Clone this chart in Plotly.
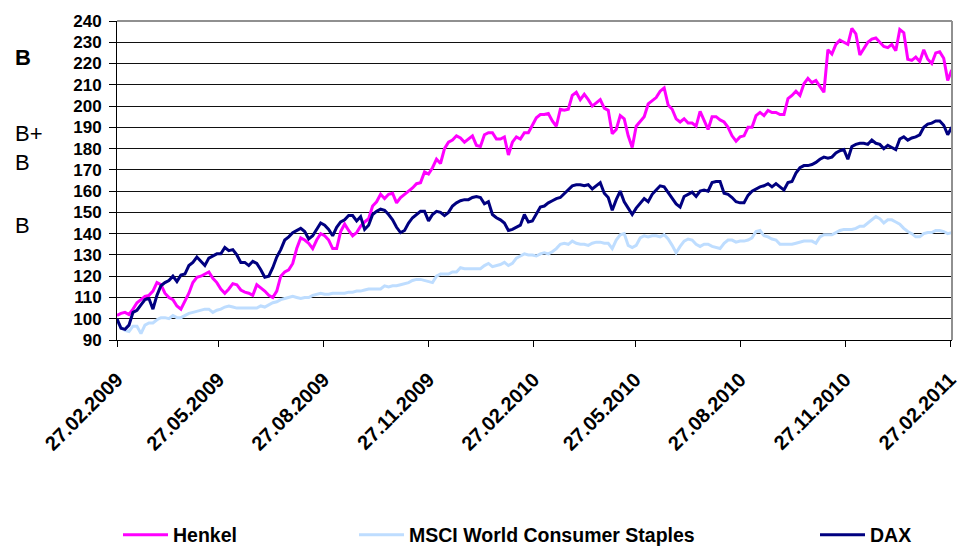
import plotly.graph_objects as go
import pandas as pd

# half-weekly observation dates from 27.02.2009 to 28.02.2011
dates = pd.date_range("2009-02-27", periods=210, freq="84h")

henkel = [101.5, 102.5, 103, 102, 104.5, 107.5, 109, 110.5, 111, 113,
          117, 116, 112, 110, 109, 106, 104.5, 108, 112, 117,
          119.5, 120, 121, 122, 119, 117, 114, 112, 114, 116.5,
          116, 113.5, 112.5, 112, 111, 116, 114.5, 113, 111, 110,
          113, 120, 122, 123, 126, 133, 138, 137, 135.5, 133,
          137, 140, 139, 137, 133, 133, 141, 144.5, 141.5, 139,
          140.5, 143.5, 145.5, 147, 153, 155, 158.5, 156.5, 158.5, 159,
          154.5, 157, 158.5, 160, 161.5, 163.5, 164, 169, 168, 171,
          175, 173, 180, 183, 184, 186, 185, 183, 184.5, 186,
          181.5, 181, 186.5, 187.5, 187.5, 184.5, 184.5, 185.5, 177, 183,
          185.5, 184.5, 187.5, 187.5, 191, 194.5, 196, 196, 196.5, 193,
          190.5, 198.5, 198, 198.5, 205, 206.5, 203, 205.5, 203, 200,
          201.5, 203, 199, 198, 187, 189, 195.5, 194, 186, 180.5,
          190.5, 192.5, 195, 201, 202.5, 204, 207, 208.5, 200.5, 198.5,
          194, 192.5, 194, 192, 192, 190.5, 197.5, 193, 189, 195,
          195, 193.5, 192.5, 190, 186, 183.5, 185.5, 186, 190, 190,
          195.5, 197, 195.5, 198, 197, 197, 196, 196, 203.5, 205,
          207, 205, 210.5, 213, 211, 212, 209, 206.5, 226.5, 224.5,
          229, 231, 230, 229, 236.5, 234, 224, 227, 230, 231.5,
          232, 230, 228, 227.5, 229, 226, 236, 234.5, 222, 221.5,
          223, 221, 226.5, 222, 220, 225, 225.5, 222.5, 212, 217]

msci = [99, 96, 94.5, 94, 96.5, 96.5, 93, 97, 98, 98,
        99.5, 100.5, 100.5, 100, 101.5, 100.5, 100.5, 101.5, 102.5, 103,
        103.5, 104, 104.5, 104.5, 103, 104, 104.5, 105.5, 106, 105.5,
        105, 105, 105, 105, 105, 105, 106, 105.5, 106.5, 107.5,
        108, 109, 109.5, 110, 110.5, 110, 109.5, 110, 110, 111,
        111.5, 112, 111.5, 111.5, 112, 112, 112, 112, 112.5, 112.5,
        113, 113, 113.5, 114, 114, 114, 114, 115.5, 115, 115.5,
        115.5, 116, 116.5, 117, 118, 118.5, 118.5, 118, 117.5, 117,
        120, 121, 121, 121, 122, 122, 124, 123.5, 123.5, 123.5,
        123.5, 123.5, 125, 126, 124.5, 125, 125.5, 126.5, 125, 126,
        128.5, 129.5, 130.5, 130, 130, 129.5, 130.5, 131, 130.5, 131.5,
        133, 135, 135.5, 135, 136.5, 135.5, 135, 135, 134.5, 135.5,
        136, 136, 135.5, 135.5, 133, 137, 139.5, 140, 134.5, 133.5,
        134.5, 138, 139, 138.5, 139, 139, 138.5, 139.5, 137.5, 134.5,
        131, 134, 136.5, 137.5, 137, 135, 134, 135, 135, 134,
        133.5, 133, 135.5, 137, 137, 136, 136.5, 136.5, 137, 138,
        141, 141.5, 139, 138.5, 137.5, 137, 135, 135, 135, 135,
        135.5, 136, 136.5, 136.5, 136.5, 135.5, 138.5, 139.5, 139.5, 139.5,
        140.5, 141.5, 142, 142, 142, 142.5, 143.5, 143.5, 145, 146.5,
        148, 147, 145, 146.5, 146.5, 145.5, 144.5, 142.5, 141, 140,
        138.5, 138.5, 140, 140.5, 140.5, 141.5, 141.5, 141, 140, 140.5]

dax = [100, 95.5, 95, 97, 103, 104, 106.5, 109, 109.5, 104.5,
       111, 115.5, 117, 118, 120, 117.5, 120.5, 121, 125, 126.5,
       129, 127, 125, 128.5, 129.5, 130.5, 130.5, 133.5, 132, 132.5,
       130, 126.5, 126.5, 125, 127, 126, 123, 119.5, 120, 124,
       129, 132.5, 137, 138.5, 140.5, 141.5, 142.5, 141, 137.5, 139,
       142, 145, 144, 142, 139, 143, 145.5, 146.5, 148.5, 148.5,
       146, 148, 142, 144, 149, 150.5, 151.5, 151, 149, 146.5,
       143, 140.5, 141.5, 145, 147.5, 149, 150.5, 150.5, 146, 149,
       150.5, 150, 148.5, 150, 153, 154.5, 155.5, 156, 156, 157,
       157.5, 157, 154, 155, 149, 147.5, 146.5, 145, 141.5, 142,
       143, 144, 149, 145.5, 146, 149, 152.5, 153, 154.5, 155.5,
       156.5, 157, 159, 160.5, 162.5, 163, 163, 162.5, 163, 161,
       162.5, 164, 159, 157, 151, 156, 160, 155, 152, 149,
       152, 154.5, 156.5, 155, 158.5, 160.5, 162.5, 162, 159.5, 157,
       154, 152.5, 157.5, 158.5, 159.5, 157.5, 160, 160.5, 160, 164,
       164.5, 164.5, 159, 158.5, 157, 155, 154.5, 154.5, 158, 160,
       161, 162, 162.5, 163.5, 162, 163.5, 162, 160.5, 164, 164.5,
       168.5, 171, 172, 172, 172.5, 173.5, 175, 176, 175.5, 176,
       178, 179, 179.5, 175, 181, 182, 182.5, 182.5, 182, 184,
       182.5, 182, 180, 181.5, 180.5, 179.5, 184.5, 185.5, 184, 185,
       185.5, 186.5, 190, 191.5, 192, 193, 193, 191, 186.5, 190]

tick_dates = ["2009-02-27", "2009-05-27", "2009-08-27", "2009-11-27", "2010-02-27",
              "2010-05-27", "2010-08-27", "2010-11-27", "2011-02-27"]
tick_labels = ["27.02.2009", "27.05.2009", "27.08.2009", "27.11.2009", "27.02.2010",
               "27.05.2010", "27.08.2010", "27.11.2010", "27.02.2011"]

side_labels = ["B", "B+", "B", "B"]
side_bold = [True, False, False, False]
side_y = [0.885, 0.646, 0.556, 0.360]

FONT = "Liberation Sans, Arial, sans-serif"

fig = go.Figure()
fig.add_trace(go.Scatter(x=dates, y=henkel, mode="lines", name="Henkel",
                         line=dict(color="#FF00FF", width=3), legend="legend"))
fig.add_trace(go.Scatter(x=dates, y=msci, mode="lines", name="MSCI World Consumer Staples",
                         line=dict(color="#BEDDFF", width=3), legend="legend2"))
fig.add_trace(go.Scatter(x=dates, y=dax, mode="lines", name="DAX",
                         line=dict(color="#000080", width=3), legend="legend3"))

legend_common = dict(orientation="h", xref="container", yref="container",
                     yanchor="middle", xanchor="left", bgcolor="rgba(0,0,0,0)",
                     font=dict(family=FONT, size=19.5, color="black", weight="bold"),
                     itemwidth=45)

fig.update_layout(
    width=972, height=550,
    margin=dict(l=117, r=12, t=18, b=210),
    paper_bgcolor="white", plot_bgcolor="white",
    showlegend=True,
    legend=dict(x=118 / 972, y=1 - 535 / 550, **legend_common),
    legend2=dict(x=354 / 972, y=1 - 535 / 550, **legend_common),
    legend3=dict(x=815 / 972, y=1 - 535 / 550, **legend_common),
    xaxis=dict(type="date", range=["2009-02-27", "2011-02-28 18:00"],
               tickmode="array", tickvals=tick_dates, ticktext=tick_labels,
               tickangle=-45, ticks="outside", ticklen=6, tickcolor="black",
               showline=True, linecolor="black", linewidth=1,
               showgrid=False, zeroline=False,
               ticklabelstandoff=13,
               tickfont=dict(family=FONT, size=20, color="black", weight="bold")),
    yaxis=dict(range=[90, 240], dtick=10, tick0=90,
               ticks="outside", ticklen=7, tickcolor="black",
               showline=True, linecolor="black", linewidth=1,
               showgrid=True, gridcolor="#111111", gridwidth=1, zeroline=False,
               ticklabelstandoff=4,
               tickfont=dict(family=FONT, size=17, color="black", weight="bold")),
    shapes=[
        dict(type="line", xref="paper", yref="paper", x0=0, x1=1, y0=1, y1=1,
             line=dict(color="#909090", width=2), layer="above"),
        dict(type="line", xref="paper", yref="paper", x0=1, x1=1, y0=0, y1=1,
             line=dict(color="#909090", width=2), layer="above"),
    ],
)

for txt, bold, yy in zip(side_labels, side_bold, side_y):
    fig.add_annotation(text=txt, xref="paper", yref="paper", x=(12 - 117) / 843, y=yy,
                       xanchor="left", yanchor="middle", showarrow=False,
                       font=dict(family=FONT, size=22, color="black",
                                 weight="bold" if bold else "normal"))

fig.write_html("out.html")
